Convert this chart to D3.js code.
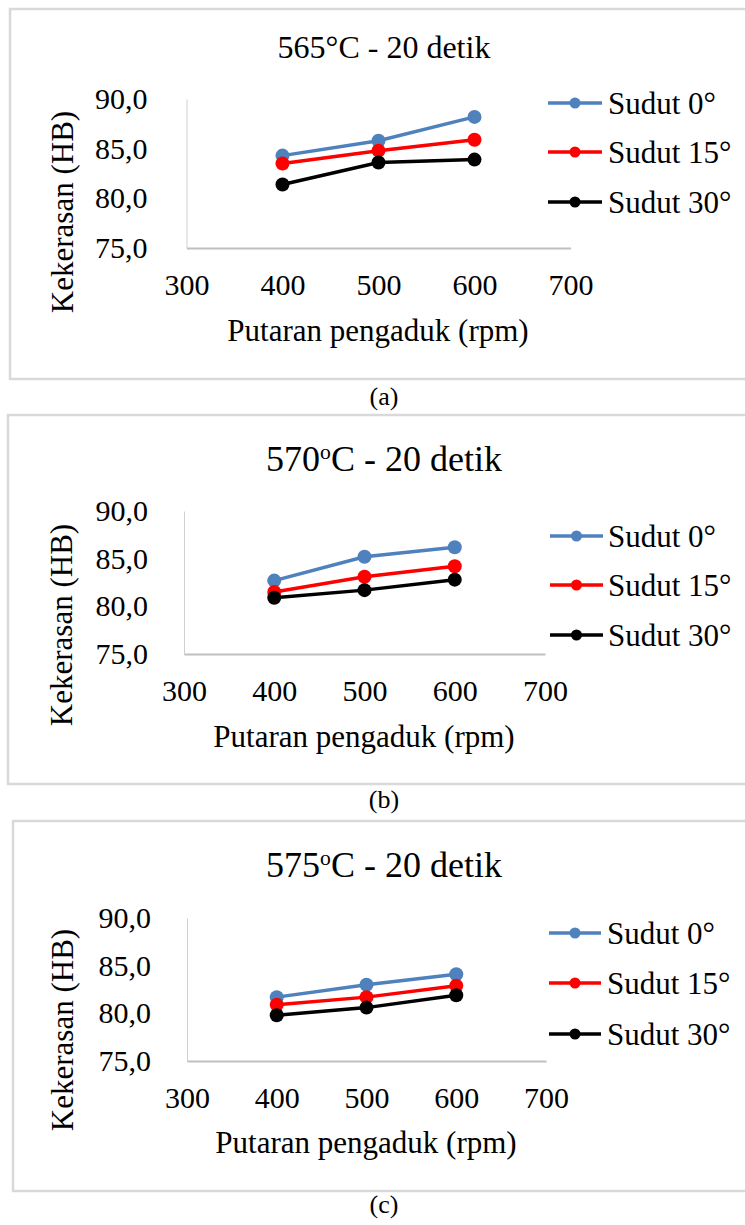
<!DOCTYPE html>
<html>
<head>
<meta charset="utf-8">
<script src="https://cdn.jsdelivr.net/npm/d3@7"></script>
</head>
<body style="margin:0;padding:0;background:#fff">
<svg id="chart" width="745" height="1225" style="display:block;font-family:'Liberation Serif'"></svg>
<script>
// ---- data ----
const rpm = [400, 500, 600];
const seriesNames = ["Sudut 0°", "Sudut 15°", "Sudut 30°"];
const seriesColors = ["#4f81bd", "#ff0000", "#000000"];
const xTicks = [300, 400, 500, 600, 700];
const yTicks = [75, 80, 85, 90];

// Panel (a) 565°C
const a_sudut0 = [84.3, 85.8, 88.2];
const a_sudut15 = [83.5, 84.8, 85.9];
const a_sudut30 = [81.4, 83.6, 83.9];
// Panel (b) 570°C
const b_sudut0 = [82.7, 85.2, 86.2];
const b_sudut15 = [81.5, 83.1, 84.2];
const b_sudut30 = [80.9, 81.7, 82.8];
// Panel (c) 575°C
const c_sudut0 = [81.7, 83.0, 84.1];
const c_sudut15 = [80.9, 81.7, 82.9];
const c_sudut30 = [79.8, 80.6, 81.9];

const titlesMain = ["565", "570", "575"];
const captions = ["(a)", "(b)", "(c)"];
const yAxisTitle = "Kekerasan (HB)";
const xAxisTitle = "Putaran pengaduk (rpm)";

// ---- layout ----
const FONT = "'Liberation Serif', 'Times New Roman', serif";
const panels = [
  { series: [a_sudut0, a_sudut15, a_sudut30], temp: titlesMain[0], degree: "°",
    frame: {x: 10, y: 9, h: 370}, x0: 186.5, x1: 570.5, yTop: 99, yBot: 248,
    title: {x: 384, y: 58, size: 32}, legend: {x0: 548, x1: 602, tx: 608, rows: [103, 152, 202]},
    yTitle: {x: 62, y: 212}, xTitle: {x: 378, y: 341}, yPad: 39, caption: {y: 405} },
  { series: [b_sudut0, b_sudut15, b_sudut30], temp: titlesMain[1], degree: "o",
    frame: {x: 8, y: 415, h: 369}, x0: 184, x1: 545, yTop: 511, yBot: 654,
    title: {x: 384, y: 471, size: 36}, legend: {x0: 550, x1: 603, tx: 608, rows: [536, 585, 635]},
    yTitle: {x: 61, y: 625}, xTitle: {x: 364, y: 747}, yPad: 36, caption: {y: 808} },
  { series: [c_sudut0, c_sudut15, c_sudut30], temp: titlesMain[2], degree: "o",
    frame: {x: 13, y: 821, h: 370}, x0: 187, x1: 546, yTop: 918, yBot: 1061,
    title: {x: 384, y: 877, size: 36}, legend: {x0: 549, x1: 601, tx: 607, rows: [933, 983, 1034]},
    yTitle: {x: 62, y: 1030}, xTitle: {x: 366, y: 1153}, yPad: 36, caption: {y: 1213} }
];

const svg = d3.select("#chart");
const fmt = d => d3.format(".1f")(d).replace(".", ",");

panels.forEach((p, i) => {
  const g = svg.append("g");

  // frame
  g.append("rect")
    .attr("x", p.frame.x).attr("y", p.frame.y)
    .attr("width", 760 - p.frame.x).attr("height", p.frame.h)
    .attr("fill", "none").attr("stroke", "#d9d9d9").attr("stroke-width", 2.5);

  const x = d3.scaleLinear().domain([300, 700]).range([p.x0, p.x1]);
  const y = d3.scaleLinear().domain([75, 90]).range([p.yBot, p.yTop]);

  // y axis
  const yAx = g.append("g").attr("transform", `translate(${p.x0},0)`)
    .call(d3.axisLeft(y).tickValues(yTicks).tickFormat(fmt).tickSize(0).tickSizeOuter(0).tickPadding(p.yPad));
  yAx.attr("font-family", null).attr("font-size", null);
  yAx.select(".domain").attr("stroke", "#d0d0d0").attr("stroke-width", 1);
  yAx.selectAll("text").style("font-size", "30px").style("font-family", FONT).attr("fill", "#000");

  // x axis
  const xAx = g.append("g").attr("transform", `translate(0,${p.yBot})`)
    .call(d3.axisBottom(x).tickValues(xTicks).tickFormat(d3.format("d")).tickSize(0).tickSizeOuter(0).tickPadding(26));
  xAx.attr("font-family", null).attr("font-size", null);
  xAx.select(".domain").attr("stroke", "#bfbfbf").attr("stroke-width", 2);
  xAx.selectAll("text").style("font-size", "30px").style("font-family", FONT).attr("fill", "#000");

  // lines + markers
  const line = d3.line().x((d, k) => x(rpm[k])).y(d => y(d));
  p.series.forEach((vals, s) => {
    g.append("path").datum(vals)
      .attr("d", line).attr("fill", "none")
      .attr("stroke", seriesColors[s]).attr("stroke-width", 3.5);
    g.selectAll(null).data(vals).enter().append("circle")
      .attr("cx", (d, k) => x(rpm[k])).attr("cy", d => y(d))
      .attr("r", 7).attr("fill", seriesColors[s]);
  });

  // legend
  seriesNames.forEach((name, s) => {
    const ry = p.legend.rows[s];
    g.append("line").attr("x1", p.legend.x0).attr("x2", p.legend.x1)
      .attr("y1", ry).attr("y2", ry).attr("stroke", seriesColors[s]).attr("stroke-width", 3.5);
    g.append("circle").attr("cx", (p.legend.x0 + p.legend.x1) / 2).attr("cy", ry)
      .attr("r", 5.5).attr("fill", seriesColors[s]);
    g.append("text").attr("x", p.legend.tx).attr("y", ry).attr("dy", "0.35em")
      .style("font-family", FONT).style("font-size", "31px").text(name);
  });

  // title
  const t = g.append("text").attr("x", p.title.x).attr("y", p.title.y)
    .attr("text-anchor", "middle").style("font-family", FONT).style("font-size", p.title.size + "px");
  t.append("tspan").text(p.temp);
  if (p.degree === "°") {
    t.append("tspan").text("°C - 20 detik");
  } else {
    t.append("tspan").style("font-size", (p.title.size * 0.6) + "px").attr("dy", -p.title.size * 0.32).text("o");
    t.append("tspan").attr("dy", p.title.size * 0.32).text("C - 20 detik");
  }

  // axis titles
  g.append("text").attr("transform", `translate(${p.yTitle.x},${p.yTitle.y}) rotate(-90)`)
    .attr("text-anchor", "middle").attr("dy", "0.35em")
    .style("font-family", FONT).style("font-size", "31px").text(yAxisTitle);
  g.append("text").attr("x", p.xTitle.x).attr("y", p.xTitle.y)
    .attr("text-anchor", "middle").style("font-family", FONT).style("font-size", "31px").text(xAxisTitle);

  // caption
  svg.append("text").attr("x", 384).attr("y", p.caption.y)
    .attr("text-anchor", "middle").style("font-family", FONT).style("font-size", "26px").text(captions[i]);
});
</script>
</body>
</html>
